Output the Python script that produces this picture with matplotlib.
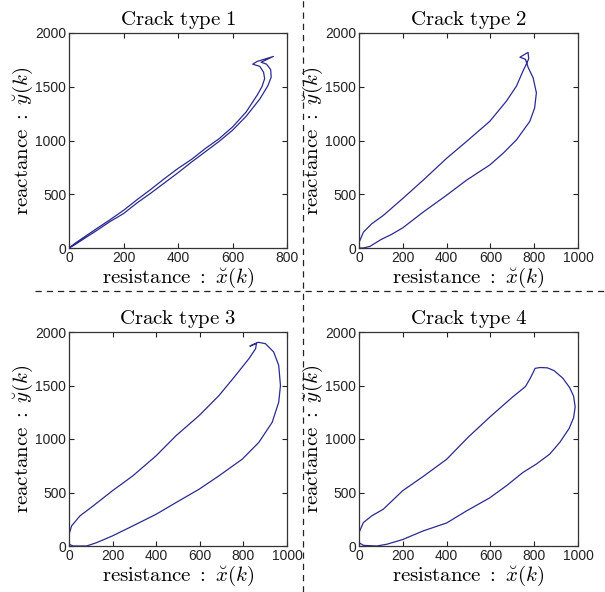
import matplotlib
matplotlib.use('Agg')
import matplotlib.pyplot as plt
from matplotlib.lines import Line2D

plt.rcParams['mathtext.fontset'] = 'cm'
plt.rcParams['font.family'] = ['Liberation Sans', 'DejaVu Sans']

# crack type 1: up one branch, hook at the top, back down the other
x1 = [0, 20, 50, 100, 150, 200, 250, 300, 350, 400, 450, 500, 550, 600, 650, 700,
      730, 742, 740, 725, 705, 750, 690, 674, 700, 714, 718, 708, 690, 650, 600,
      550, 500, 450, 400, 350, 300, 250, 200, 150, 100, 50, 20, 0]
y1 = [0, 28, 78, 160, 245, 320, 420, 510, 605, 700, 800, 895, 990, 1095, 1225, 1385,
      1510, 1590, 1660, 1710, 1728, 1782, 1735, 1710, 1690, 1635, 1575, 1500, 1420,
      1265, 1125, 1015, 925, 825, 740, 645, 545, 450, 350, 262, 178, 92, 40, 0]

# crack type 2
x2 = [0, 20, 50, 100, 150, 200, 293, 400, 491, 597, 658, 719, 780, 802, 810, 795,
      773, 760, 735, 772, 775, 764, 749, 719, 673, 597, 491, 400, 293, 199, 111,
      58, 20, 0, 0]
y2 = [0, 0, 15, 78, 128, 188, 334, 491, 631, 772, 881, 1006, 1178, 1303, 1444, 1584,
      1677, 1755, 1775, 1820, 1760, 1710, 1647, 1506, 1366, 1178, 991, 834, 631,
      459, 303, 225, 147, 50, 0]

# crack type 3
x3 = [0, 20, 81, 126, 199, 293, 400, 491, 597, 688, 795, 871, 932, 962, 970, 962,
      939, 901, 868, 830, 860, 856, 825, 764, 688, 597, 491, 400, 293, 199, 111,
      50, 12, 0, 0]
y3 = [16, 0, 0, 31, 94, 188, 297, 406, 531, 656, 812, 969, 1156, 1344, 1500, 1688,
      1813, 1891, 1904, 1868, 1895, 1844, 1750, 1594, 1406, 1219, 1031, 844, 656,
      516, 375, 281, 188, 109, 16]

# crack type 4
x4 = [0, 20, 81, 126, 199, 293, 400, 491, 597, 673, 749, 810, 871, 917, 960, 980,
      987, 980, 962, 930, 890, 860, 826, 804, 796, 780, 760, 700, 600, 500, 400, 293,
      199, 150, 111, 58, 20, 0, 0]
y4 = [31, 6, 0, 16, 60, 141, 215, 328, 450, 563, 688, 766, 859, 969, 1100, 1200,
      1300, 1400, 1480, 1570, 1640, 1665, 1668, 1660, 1625, 1560, 1490, 1390, 1210,
      1020, 810, 650, 516, 420, 344, 281, 219, 125, 31]

curves = [(x1, y1), (x2, y2), (x3, y3), (x4, y4)]
xmax = [800, 1000, 1000, 1000]
titles = ['1', '2', '3', '4']

W, H = 605, 592
fig = plt.figure(figsize=(W / 100, H / 100), dpi=100)
boxes = [(69, 33, 218, 215), (359, 33, 219, 215), (69, 332, 218, 214), (359, 332, 219, 214)]

for i, (l, t, w, h) in enumerate(boxes):
    ax = fig.add_axes([l / W, (H - t - h) / H, w / W, h / H])
    xs, ys = curves[i]
    ax.plot(xs, ys, color='#2a2a90', lw=0.9)
    ax.set_xlim(0, xmax[i])
    ax.set_ylim(0, 2000)
    ax.set_xticks(range(0, xmax[i] + 1, 200))
    ax.set_yticks(range(0, 2001, 500))
    ax.tick_params(direction='in', top=True, right=True, length=3.5,
                   labelsize=10, pad=2, colors='#222222')
    for s in ax.spines.values():
        s.set_color('#333333')
        s.set_linewidth(0.9)
    ax.set_title(r'$\mathrm{Crack\ type\ %s}$' % titles[i], fontsize=15, pad=6)
    ax.set_xlabel(r'$\mathrm{resistance}\ :\ \breve{x}(k)$', fontsize=15, labelpad=1)
    ax.set_ylabel(r'$\mathrm{reactance}\ :\ \breve{y}(k)$', fontsize=15, labelpad=0)

# dashed separators between the panels
fig.add_artist(Line2D([303 / W, 303 / W], [0, 1], color='#222222', lw=0.9,
                      ls=(0, (5, 4)), transform=fig.transFigure))
fig.add_artist(Line2D([35 / W, 1], [1 - 291 / H, 1 - 291 / H], color='#222222', lw=0.9,
                      ls=(0, (5, 4)), transform=fig.transFigure))

fig.savefig('out.png', dpi=100)
